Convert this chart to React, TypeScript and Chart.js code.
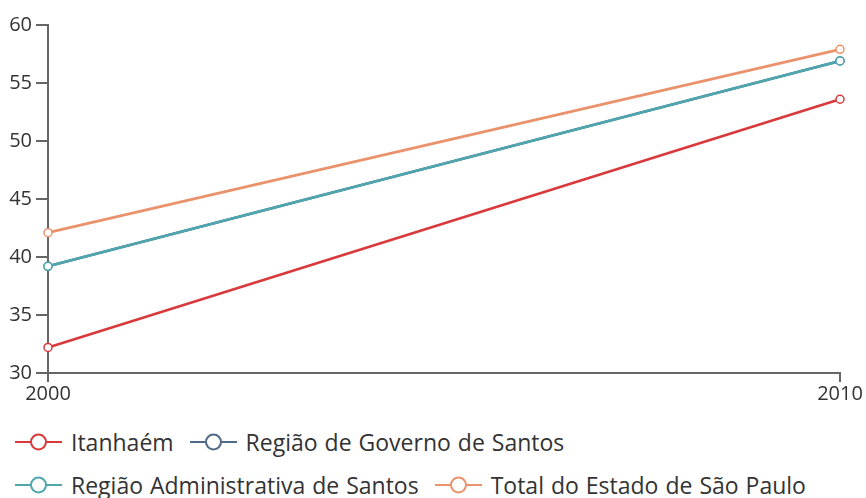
import React, { useEffect, useRef } from "react";
import { Chart, registerables } from "chart.js";

Chart.register(...registerables);

const years = ["2000", "2010"];
const itanhaem = [32.2, 53.6];
const governo = [39.2, 56.9];
const administrativa = [39.2, 56.9];
const totalSP = [42.1, 57.9];
const seriesNames = [
  "Itanhaém",
  "Região de Governo de Santos",
  "Região Administrativa de Santos",
  "Total do Estado de São Paulo",
];
const colors = ["#d9393b", "#4f6a86", "#4ea6ae", "#ea926c"];
const yMin = 30;
const yMax = 60;
const yStep = 5;

const FONT = "'Open Sans', sans-serif";

function Marker({ color }: { color: string }) {
  return (
    <svg width="47" height="20" style={{ display: "block" }}>
      <line x1="0" y1="10" x2="47" y2="10" stroke={color} strokeWidth="2" />
      <circle cx="23.5" cy="10" r="7.5" fill="#fff" stroke={color} strokeWidth="2" />
    </svg>
  );
}

export default function App() {
  const ref = useRef<HTMLCanvasElement>(null);
  useEffect(() => {
    document.body.style.margin = "0";
    const ctx = ref.current!;
    const series = [itanhaem, governo, administrativa, totalSP];
    const orders = [1, 4, 2, 0];
    const chart = new Chart(ctx, {
      type: "line",
      data: {
        labels: years,
        datasets: series.map((d, i) => ({
          label: seriesNames[i],
          data: d,
          borderColor: colors[i],
          backgroundColor: "#fff",
          pointBackgroundColor: "#fff",
          pointBorderColor: colors[i],
          pointRadius: 4,
          pointBorderWidth: 1.5,
          borderWidth: 2.6,
          tension: 0,
          order: orders[i],
        })),
      },
      options: {
        animation: false,
        responsive: false,
        maintainAspectRatio: false,
        layout: { padding: { top: 25, right: 26, left: 0, bottom: 0 } },
        plugins: { legend: { display: false }, tooltip: { enabled: false } },
        scales: {
          x: {
            offset: false,
            grid: {
              display: true,
              drawOnChartArea: false,
              tickLength: 9,
              color: "#666",
              lineWidth: 2,
            },
            border: { display: true, color: "#666", width: 2 },
            ticks: {
              color: "#333",
              font: { family: FONT, size: 20 },
              padding: 0,
              maxRotation: 0,
            },
            afterFit: (s: any) => {
              s.height = 37;
            },
          },
          y: {
            min: yMin,
            max: yMax,
            grid: {
              display: true,
              drawOnChartArea: false,
              tickLength: 12,
              color: "#666",
              lineWidth: 2,
            },
            border: { display: true, color: "#666", width: 2 },
            ticks: {
              stepSize: yStep,
              color: "#333",
              font: { family: FONT, size: 20 },
              padding: 4,
            },
            afterFit: (s: any) => {
              s.width = 48;
            },
          },
        },
      },
    });
    return () => chart.destroy();
  }, []);

  const itemStyle: React.CSSProperties = {
    display: "flex",
    alignItems: "center",
    gap: 9,
    marginRight: 16,
  };
  const textStyle: React.CSSProperties = {
    fontFamily: FONT,
    fontSize: 23,
    wordSpacing: 1,
    color: "#333",
    whiteSpace: "nowrap",
    lineHeight: "26px",
  };

  return (
    <div style={{ position: "relative", width: 866, height: 498, background: "#fff", overflow: "hidden" }}>
      <canvas ref={ref} width={866} height={410} style={{ display: "block" }} />
      <div style={{ position: "absolute", left: 15, top: 429, width: 850 }}>
        <div style={{ display: "flex", height: 26, alignItems: "center" }}>
          {[0, 1].map((i) => (
            <div key={i} style={itemStyle}>
              <Marker color={colors[i]} />
              <span style={textStyle}>{seriesNames[i]}</span>
            </div>
          ))}
        </div>
        <div style={{ display: "flex", height: 26, alignItems: "center", marginTop: 17 }}>
          {[2, 3].map((i) => (
            <div key={i} style={itemStyle}>
              <Marker color={colors[i]} />
              <span style={textStyle}>{seriesNames[i]}</span>
            </div>
          ))}
        </div>
      </div>
    </div>
  );
}
